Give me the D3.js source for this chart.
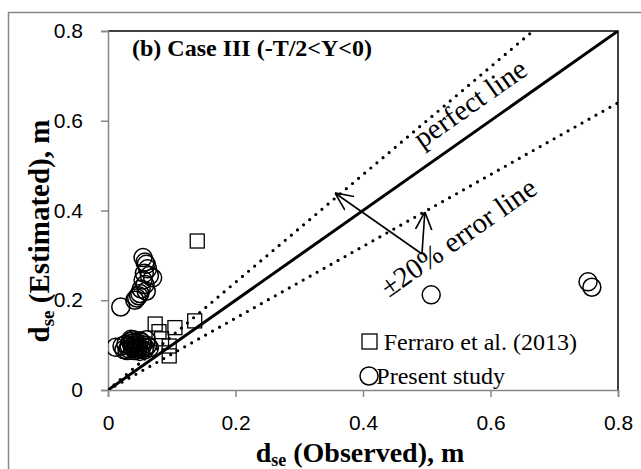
<!DOCTYPE html>
<html>
<head>
<meta charset="utf-8">
<script src="https://cdn.jsdelivr.net/npm/d3@7"></script>
<style>
body { margin: 0; background: #fff; }
svg text { font-family: "Liberation Serif", "Times New Roman", serif; }
.tick text { font-family: "Liberation Sans", Arial, sans-serif; font-size: 21px; fill: #000; }
</style>
</head>
<body>
<svg width="641" height="469"></svg>
<script>
// data
var ferraroX = [0.074, 0.080, 0.084, 0.096, 0.096, 0.105, 0.136, 0.140];
var ferraroY = [0.147, 0.130, 0.114, 0.098, 0.076, 0.139, 0.154, 0.332];

var presentX = [0.055, 0.058, 0.060, 0.062, 0.057, 0.065, 0.070, 0.055, 0.058, 0.052, 0.060, 0.048, 0.045, 0.042, 0.050, 0.020,
	0.012, 0.022, 0.028, 0.032, 0.035, 0.038, 0.040, 0.042, 0.045, 0.048, 0.050, 0.052, 0.055, 0.058, 0.060, 0.062, 0.065, 0.030, 0.040, 0.050,
	0.025, 0.033, 0.037, 0.044, 0.047, 0.053, 0.057, 0.036, 0.043,
	0.507, 0.753, 0.759];
var presentY = [0.295, 0.285, 0.280, 0.270, 0.260, 0.255, 0.250, 0.245, 0.235, 0.225, 0.220, 0.210, 0.205, 0.200, 0.215, 0.185,
	0.095, 0.098, 0.102, 0.092, 0.108, 0.095, 0.100, 0.088, 0.104, 0.097, 0.110, 0.092, 0.101, 0.095, 0.112, 0.099, 0.094, 0.088, 0.112, 0.086,
	0.090, 0.099, 0.104, 0.094, 0.091, 0.106, 0.089, 0.113, 0.107,
	0.212, 0.241, 0.229];

var xTicks = [0, 0.2, 0.4, 0.6, 0.8];
var yTicks = [0, 0.2, 0.4, 0.6, 0.8];
var tickLabels = ['0', '0.2', '0.4', '0.6', '0.8'];

// annotation arrows (data units): common start, two heads
var arrowStart = [0.4925, 0.303];
var arrowEnds = [[0.356, 0.439], [0.497, 0.397]];

function main() {
	var svg = d3.select('svg');
	var left = 108, right = 618, top = 31, bottom = 390;

	var x = d3.scaleLinear().domain([0, 0.8]).range([left, right]);
	var y = d3.scaleLinear().domain([0, 0.8]).range([bottom, top]);

	// outer chart frame
	svg.append('rect')
		.attr('x', 8.5).attr('y', 12.5)
		.attr('width', 700).attr('height', 600)
		.attr('fill', 'none').attr('stroke', '#868686').attr('stroke-width', 1.5);

	var defs = svg.append('defs');
	defs.append('clipPath').attr('id', 'clip')
		.append('rect').attr('x', left).attr('y', top).attr('width', right - left).attr('height', bottom - top);
	defs.append('marker').attr('id', 'head')
		.attr('viewBox', '0 0 12 12').attr('refX', 12).attr('refY', 6)
		.attr('markerWidth', 18).attr('markerHeight', 18)
		.attr('markerUnits', 'userSpaceOnUse').attr('orient', 'auto')
		.append('path').attr('d', 'M0,0.5 L12,6 L0,11.5')
		.attr('fill', 'none').attr('stroke', '#000').attr('stroke-width', 1.1);

	// plot border top/right
	svg.append('path')
		.attr('d', 'M' + left + ',' + top + 'H' + right + 'V' + bottom)
		.attr('fill', 'none').attr('stroke', '#000').attr('stroke-width', 1.5);

	// axes
	var xAxis = d3.axisBottom(x).tickValues(xTicks).tickSize(7).tickPadding(18)
		.tickFormat(function(d, i){ return tickLabels[i]; });
	var yAxis = d3.axisLeft(y).tickValues(yTicks).tickSize(7).tickPadding(18)
		.tickFormat(function(d, i){ return tickLabels[i]; });

	var gx = svg.append('g').attr('transform', 'translate(0,' + bottom + ')').call(xAxis);
	var gy = svg.append('g').attr('transform', 'translate(' + left + ',0)').call(yAxis);
	[gx, gy].forEach(function(g){
		g.select('.domain').attr('stroke', '#868686').attr('stroke-width', 1.5);
		g.selectAll('.tick line').attr('stroke', '#868686').attr('stroke-width', 1.5);
	});

	var plot = svg.append('g').attr('clip-path', 'url(#clip)');

	// lines: perfect and +/-20%
	plot.append('line')
		.attr('x1', x(0)).attr('y1', y(0)).attr('x2', x(0.8)).attr('y2', y(0.8))
		.attr('stroke', '#000').attr('stroke-width', 3);
	[1.2, 0.8].forEach(function(k){
		plot.append('line')
			.attr('x1', x(0)).attr('y1', y(0)).attr('x2', x(0.8)).attr('y2', y(0.8 * k))
			.attr('stroke', '#000').attr('stroke-width', 3.2)
			.attr('stroke-linecap', 'round').attr('stroke-dasharray', '0 8');
	});

	// markers
	var present = presentX.map(function(v, i){ return {x: v, y: presentY[i]}; });
	var ferraro = ferraroX.map(function(v, i){ return {x: v, y: ferraroY[i]}; });

	plot.selectAll('.sq').data(ferraro).enter().append('rect')
		.attr('class', 'sq')
		.attr('x', function(d){ return x(d.x) - 7; })
		.attr('y', function(d){ return y(d.y) - 7; })
		.attr('width', 14).attr('height', 14)
		.attr('fill', 'none').attr('stroke', '#000').attr('stroke-width', 1.3);

	plot.selectAll('.ci').data(present).enter().append('circle')
		.attr('class', 'ci')
		.attr('cx', function(d){ return x(d.x); })
		.attr('cy', function(d){ return y(d.y); })
		.attr('r', 9)
		.attr('fill', 'none').attr('stroke', '#000').attr('stroke-width', 1.5);

	// arrows
	arrowEnds.forEach(function(e){
		svg.append('line')
			.attr('x1', x(arrowStart[0])).attr('y1', y(arrowStart[1]))
			.attr('x2', x(e[0])).attr('y2', y(e[1]))
			.attr('stroke', '#000').attr('stroke-width', 1.6)
			.attr('marker-end', 'url(#head)');
	});

	// rotated annotations
	var ang = Math.atan2(y(0.8) - y(0), x(0.8) - x(0)) * 180 / Math.PI;
	svg.append('text')
		.attr('transform', 'translate(422,149) rotate(' + ang + ')')
		.attr('font-size', 29)
		.text('perfect line');
	svg.append('text')
		.attr('transform', 'translate(389,298) rotate(' + ang + ')')
		.attr('font-size', 29)
		.text('\u00b120% error line');

	// title
	svg.append('text')
		.attr('x', 132).attr('y', 56)
		.attr('font-size', 24).attr('font-weight', 'bold')
		.text('(b) Case III (-T/2<Y<0)');

	// legend
	svg.append('rect').attr('x', 362).attr('y', 334).attr('width', 15).attr('height', 15)
		.attr('fill', 'none').attr('stroke', '#000').attr('stroke-width', 1.3);
	svg.append('text').attr('x', 577).attr('y', 350).attr('font-size', 24)
		.attr('text-anchor', 'end').text('Ferraro et al. (2013)');
	svg.append('circle').attr('cx', 369).attr('cy', 376).attr('r', 9)
		.attr('fill', 'none').attr('stroke', '#000').attr('stroke-width', 1.5);
	svg.append('text').attr('x', 505).attr('y', 384).attr('font-size', 24)
		.attr('text-anchor', 'end').text('Present study');

	// axis titles
	var xt = svg.append('text')
		.attr('x', 360).attr('y', 462)
		.attr('text-anchor', 'middle').attr('font-size', 28).attr('font-weight', 'bold');
	xt.append('tspan').text('d');
	xt.append('tspan').attr('font-size', 18).attr('dy', 4).text('se');
	xt.append('tspan').attr('dy', -4).text(' (Observed), m');

	var yt = svg.append('text')
		.attr('transform', 'translate(49,231) rotate(-90)')
		.attr('text-anchor', 'middle').attr('font-size', 29).attr('font-weight', 'bold');
	yt.append('tspan').text('d');
	yt.append('tspan').attr('font-size', 19).attr('dy', 5).text('se');
	yt.append('tspan').attr('dy', -5).text(' (Estimated), m');
}
main();
</script>
</body>
</html>
